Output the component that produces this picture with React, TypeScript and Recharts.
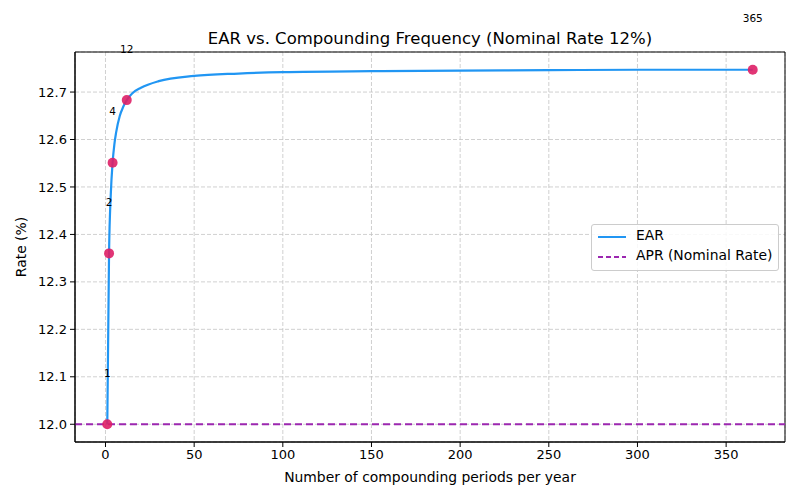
import React from 'react';
import { ComposedChart, Line, Scatter, XAxis, YAxis, CartesianGrid, ReferenceLine, ReferenceArea } from 'recharts';

// EAR curve (percent)
const periods = [1, 2, 3, 4, 5, 6, 8, 10, 12, 15, 20, 30, 50, 75, 100, 150, 200, 250, 300, 365];
const earValues = [12.0, 12.36, 12.486, 12.551, 12.59, 12.615, 12.649, 12.669, 12.683, 12.697, 12.709, 12.723, 12.734, 12.739, 12.742, 12.744, 12.745, 12.746, 12.747, 12.747];

// highlighted frequencies: annual, semi-annual, quarterly, monthly, daily
const markedPeriods = [1, 2, 4, 12, 365];
const markedEar = [12.0, 12.36, 12.551, 12.683, 12.747];

const aprRate = 12.0;

const xTicks = [0, 50, 100, 150, 200, 250, 300, 350];
const yTicks = [12.0, 12.1, 12.2, 12.3, 12.4, 12.5, 12.6, 12.7];
const xDomain = [-17.2, 383.2];
const yDomain = [11.9626, 12.7844];

const curveData = periods.map((n, i) => ({ n, ear: earValues[i] }));
const markerData = markedPeriods.map((n, i) => ({ n, ear: markedEar[i] }));

const W = 800;
const H = 500;
const M = { top: 52, right: 15, bottom: 0, left: 0 };
const Y_AXIS_W = 75;
const X_AXIS_H = 58;
const PLOT_H = H - M.top - M.bottom - X_AXIS_H;
// labels sit 0.1 percentage point above each marker
const LABEL_LIFT = (0.1 / (yDomain[1] - yDomain[0])) * PLOT_H;

const FONT = 'DejaVu Sans, sans-serif';
const BLUE = '#2196f3';
const PURPLE = '#9c27b0';
const PINK = '#de1f66';

function Marker(props: any) {
  const { cx, cy, payload } = props;
  return (
    <g>
      <circle cx={cx} cy={cy} r={5} fill={PINK} fillOpacity={0.9} />
      <text x={cx} y={cy - LABEL_LIFT} textAnchor="middle" fontSize={10.5} fontFamily={FONT} fill="#000">
        {payload.n}
      </text>
    </g>
  );
}

function LegendBox() {
  return (
    <div style={{ position: 'absolute', left: 591, top: 224, width: 186, height: 45, border: '1px solid #cccccc', borderRadius: 3, background: 'rgba(255,255,255,0.85)', fontFamily: FONT, fontSize: 13.9 }}>
      <svg width={40} height={45} style={{ position: 'absolute', left: 0, top: 0 }}>
        <line x1={6} x2={34} y1={12} y2={12} stroke={BLUE} strokeWidth={2} />
        <line x1={6} x2={34} y1={32} y2={32} stroke={PURPLE} strokeWidth={2} strokeDasharray="5 3" />
      </svg>
      <div style={{ position: 'absolute', left: 44, top: 2 }}>EAR</div>
      <div style={{ position: 'absolute', left: 44, top: 22, whiteSpace: 'nowrap' }}>APR (Nominal Rate)</div>
    </div>
  );
}

export default function App() {
  return (
    <div style={{ position: 'absolute', left: 0, top: 0, width: W, height: H, background: '#fff' }}>
      <ComposedChart width={W} height={H} margin={M} style={{ fontFamily: FONT }}>
        <CartesianGrid stroke="#c4c4c4" strokeDasharray="4 2" strokeWidth={0.8} />
        <XAxis
          type="number"
          dataKey="n"
          domain={xDomain}
          ticks={xTicks}
          height={X_AXIS_H}
          stroke="#000"
          tickSize={5}
          tickMargin={3}
          tick={{ fontSize: 13, fill: '#000' }}
          label={{ value: 'Number of compounding periods per year', position: 'insideBottom', offset: 18, fontSize: 13.9, fill: '#000' }}
        />
        <YAxis
          type="number"
          domain={yDomain}
          ticks={yTicks}
          width={Y_AXIS_W}
          stroke="#000"
          tickSize={5}
          tickMargin={3}
          tickFormatter={(v: number) => v.toFixed(1)}
          tick={{ fontSize: 13, fill: '#000' }}
          label={{ value: 'Rate (%)', angle: -90, position: 'insideLeft', offset: 21, fontSize: 13.9, fill: '#000', style: { textAnchor: 'middle' } }}
        />
        <ReferenceArea x1={xDomain[0]} x2={xDomain[1]} y1={yDomain[0]} y2={yDomain[1]} fill="none" stroke="#000" strokeWidth={1} />
        <ReferenceLine y={aprRate} stroke={PURPLE} strokeWidth={2} strokeDasharray="7 4" />
        <Line data={curveData} dataKey="ear" type="monotone" stroke={BLUE} strokeWidth={2.2} dot={false} isAnimationActive={false} />
        <Scatter data={markerData} dataKey="ear" shape={Marker} isAnimationActive={false} legendType="none" />
      </ComposedChart>
      <div style={{ position: 'absolute', left: 0, width: 860, top: 29, textAlign: 'center', fontFamily: FONT, fontSize: 16.5 }}>
        EAR vs. Compounding Frequency (Nominal Rate 12%)
      </div>
      <LegendBox />
    </div>
  );
}
